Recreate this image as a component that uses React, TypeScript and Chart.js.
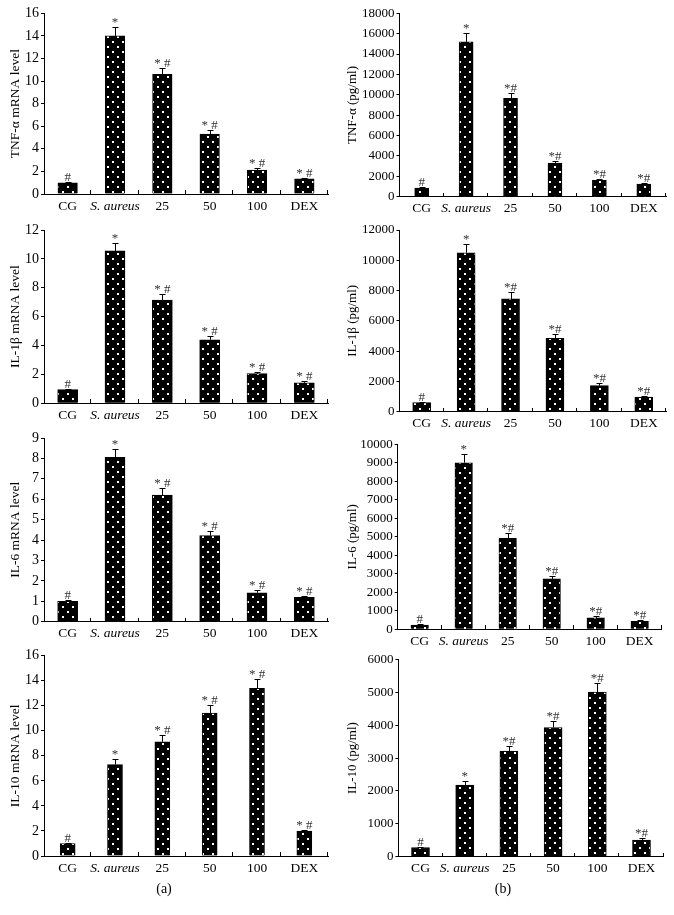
import React, { useEffect, useRef } from "react";
import { Chart, registerables } from "chart.js";

Chart.register(...registerables);

const categories = ["CG", "S. aureus", "25", "50", "100", "DEX"];
const marks = ["#", "*", "*#", "*#", "*#", "*#"];

const tnfMrna = [1.0, 14.0, 10.6, 5.3, 2.12, 1.35];
const tnfMrnaErr = [0.05, 0.75, 0.6, 0.35, 0.18, 0.1];
const tnfProt = [850, 15200, 9650, 3300, 1600, 1250];
const tnfProtErr = [80, 850, 500, 250, 120, 80];

const il1Mrna = [0.95, 10.55, 7.15, 4.4, 2.05, 1.42];
const il1MrnaErr = [0.05, 0.58, 0.42, 0.26, 0.15, 0.1];
const il1Prot = [600, 10500, 7450, 4850, 1720, 960];
const il1ProtErr = [40, 550, 450, 300, 150, 90];

const il6Mrna = [1.0, 8.05, 6.2, 4.22, 1.42, 1.2];
const il6MrnaErr = [0.07, 0.4, 0.33, 0.2, 0.12, 0.07];
const il6Prot = [230, 9000, 4920, 2720, 620, 430];
const il6ProtErr = [50, 450, 300, 180, 100, 80];

const il10Mrna = [1.0, 7.3, 9.12, 11.42, 13.38, 1.98];
const il10MrnaErr = [0.06, 0.42, 0.53, 0.6, 0.72, 0.1];
const il10Prot = [280, 2180, 3210, 3930, 5010, 505];
const il10ProtErr = [30, 130, 160, 210, 270, 50];

const SERIF = '"Liberation Serif", "DejaVu Serif", serif';

type PanelCfg = {
  x0: number;
  axisX: number;
  right: number;
  top: number;
  bottom: number;
  values: number[];
  errors: number[];
  max: number;
  step: number;
  title: string;
  barW: number;
  tickSize: number;
  titleSize: number;
  left: boolean;
};

const panels: PanelCfg[] = [
  { x0: 0, axisX: 44, right: 328, top: 13.3, bottom: 194, values: tnfMrna, errors: tnfMrnaErr, max: 16, step: 2, title: "TNF-α mRNA level", barW: 19.5, tickSize: 14, titleSize: 13.5, left: true },
  { x0: 0, axisX: 44, right: 328, top: 230, bottom: 403.3, values: il1Mrna, errors: il1MrnaErr, max: 12, step: 2, title: "IL-1β mRNA level", barW: 20, tickSize: 14, titleSize: 13.5, left: true },
  { x0: 0, axisX: 44, right: 328, top: 438, bottom: 621.7, values: il6Mrna, errors: il6MrnaErr, max: 9, step: 1, title: "IL-6 mRNA level", barW: 20, tickSize: 14, titleSize: 13.5, left: true },
  { x0: 0, axisX: 44, right: 328, top: 655.6, bottom: 856, values: il10Mrna, errors: il10MrnaErr, max: 16, step: 2, title: "IL-10 mRNA level", barW: 15, tickSize: 14, titleSize: 13.5, left: true },
  { x0: 337, axisX: 399.5, right: 666, top: 13.3, bottom: 196.7, values: tnfProt, errors: tnfProtErr, max: 18000, step: 2000, title: "TNF-α (pg/ml)", barW: 14, tickSize: 13, titleSize: 13, left: false },
  { x0: 337, axisX: 399.5, right: 666, top: 230, bottom: 411.7, values: il1Prot, errors: il1ProtErr, max: 12000, step: 2000, title: "IL-1β (pg/ml)", barW: 18, tickSize: 13, titleSize: 13, left: false },
  { x0: 337, axisX: 397.7, right: 661.7, top: 444.2, bottom: 629.3, values: il6Prot, errors: il6ProtErr, max: 10000, step: 1000, title: "IL-6 (pg/ml)", barW: 17.5, tickSize: 13, titleSize: 13, left: false },
  { x0: 337, axisX: 398.4, right: 663.6, top: 659.5, bottom: 856.7, values: il10Prot, errors: il10ProtErr, max: 6000, step: 1000, title: "IL-10 (pg/ml)", barW: 18, tickSize: 13, titleSize: 13, left: false },
];

function makePattern(ctx: CanvasRenderingContext2D) {
  const tile = document.createElement("canvas");
  tile.width = 10;
  tile.height = 10;
  const t = tile.getContext("2d")!;
  t.fillStyle = "#000";
  t.fillRect(0, 0, 10, 10);
  t.fillStyle = "#fff";
  t.fillRect(2, 2, 2, 2);
  t.fillRect(7, 7, 2, 2);
  return ctx.createPattern(tile, "repeat")!;
}

function PanelChart({ p }: { p: PanelCfg }) {
  const ref = useRef<HTMLCanvasElement | null>(null);
  const canvasTop = Math.floor(p.top - 14);
  const canvasBottom = Math.ceil(p.bottom + 28);
  const W = 337;
  const H = canvasBottom - canvasTop;

  useEffect(() => {
    const canvas = ref.current!;
    const ctx = canvas.getContext("2d")!;
    const pattern = makePattern(ctx);

    const overlay = {
      id: "overlay" + p.title,
      afterDatasetsDraw(chart: any) {
        const c = chart.ctx as CanvasRenderingContext2D;
        const meta = chart.getDatasetMeta(0);
        const ys = chart.scales.y;
        c.save();
        c.strokeStyle = "#000";
        c.lineWidth = 1;
        meta.data.forEach((el: any, i: number) => {
          const v = p.values[i];
          const e = p.errors[i];
          const yv = ys.getPixelForValue(v);
          const ye = Math.round(ys.getPixelForValue(v + e)) + 0.5;
          const x = Math.round(el.x) + 0.5;
          c.beginPath();
          c.moveTo(x, yv);
          c.lineTo(x, ye);
          c.moveTo(x - 3, ye);
          c.lineTo(x + 3, ye);
          c.stroke();
          c.fillStyle = "#333";
          c.font = `13px ${SERIF}`;
          c.textAlign = "center";
          c.textBaseline = "alphabetic";
          const m = p.left ? marks[i].replace("*#", "* #") : marks[i];
          c.fillText(m, el.x, ye - 2);
        });
        const { left, right, bottom } = chart.chartArea;
        const n = categories.length;
        const w = (right - left) / n;
        c.beginPath();
        for (let k = 1; k <= n; k++) {
          const xx = Math.round(left + k * w) - 0.5;
          c.moveTo(xx, Math.round(bottom));
          c.lineTo(xx, Math.round(bottom) - 4);
        }
        c.stroke();
        c.restore();
      },
    };

    const chart = new Chart(canvas, {
      type: "bar",
      data: {
        labels: categories,
        datasets: [
          {
            data: p.values,
            backgroundColor: pattern as any,
            borderColor: "#000",
            borderWidth: 1,
            barThickness: p.barW,
          },
        ],
      },
      options: {
        responsive: false,
        maintainAspectRatio: false,
        animation: false,
        events: [],
        layout: {
          padding: {
            left: 0,
            top: p.top - canvasTop,
            right: p.x0 + W - p.right,
            bottom: 0,
          },
        },
        plugins: {
          legend: { display: false },
          tooltip: { enabled: false },
          title: { display: false },
        },
        scales: {
          x: {
            type: "category",
            offset: true,
            grid: { display: false, drawTicks: false },
            border: { display: true, color: "#000", width: 1 },
            ticks: {
              color: "#000",
              padding: 4,
              maxRotation: 0,
              autoSkip: false,
              font: (c: any) => ({
                family: SERIF,
                size: 13.5,
                style: c.index === 1 ? "italic" : "normal",
              }),
            },
            afterFit: (s: any) => {
              s.height = canvasBottom - p.bottom;
            },
          },
          y: {
            min: 0,
            max: p.max,
            grid: {
              display: true,
              drawOnChartArea: false,
              drawTicks: true,
              tickLength: 3,
              color: "#000",
            },
            border: { display: true, color: "#000", width: 1 },
            ticks: {
              stepSize: p.step,
              autoSkip: false,
              color: "#000",
              padding: 2,
              font: { family: SERIF, size: p.tickSize },
              callback: (v: any) => String(v),
            },
            title: {
              display: true,
              text: p.title,
              color: "#000",
              font: { family: SERIF, size: p.titleSize },
              padding: { top: 7.4, bottom: 0 },
            },
            afterFit: (s: any) => {
              s.width = p.axisX - p.x0;
            },
          },
        },
      },
      plugins: [overlay],
    });
    return () => chart.destroy();
  }, []);

  return (
    <canvas
      ref={ref}
      width={W}
      height={H}
      style={{ position: "absolute", left: p.x0, top: canvasTop, width: W, height: H }}
    />
  );
}

export default function App() {
  return (
    <div
      style={{
        position: "absolute",
        left: 0,
        top: 0,
        width: 674,
        height: 915,
        background: "#fff",
        overflow: "hidden",
      }}
    >
      {panels.map((p, i) => (
        <PanelChart key={i} p={p} />
      ))}
      <div
        style={{
          position: "absolute",
          left: 144,
          top: 880,
          width: 40,
          textAlign: "center",
          fontFamily: SERIF,
          fontSize: 14,
          lineHeight: "18px",
          color: "#000",
        }}
      >
        (a)
      </div>
      <div
        style={{
          position: "absolute",
          left: 483,
          top: 880,
          width: 40,
          textAlign: "center",
          fontFamily: SERIF,
          fontSize: 14,
          lineHeight: "18px",
          color: "#000",
        }}
      >
        (b)
      </div>
    </div>
  );
}
